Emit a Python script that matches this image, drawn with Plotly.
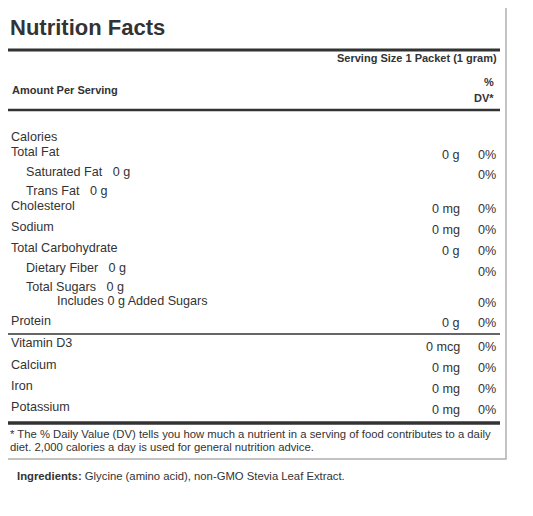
import plotly.graph_objects as go

# label data
nutrients = ["Calories", "Total Fat", "Saturated Fat   0 g", "Trans Fat   0 g", "Cholesterol",
             "Sodium", "Total Carbohydrate", "Dietary Fiber   0 g", "Total Sugars   0 g",
             "Includes 0 g Added Sugars", "Protein",
             "Vitamin D3", "Calcium", "Iron", "Potassium"]
amounts = ["", "0 g", "", "", "0 mg", "0 mg", "0 g", "", "", "", "0 g",
           "0 mcg", "0 mg", "0 mg", "0 mg"]
dvs = ["", "0%", "0%", "", "0%", "0%", "0%", "0%", "", "0%", "0%",
       "0%", "0%", "0%", "0%"]
indent_level = [0, 0, 1, 1, 0, 0, 0, 1, 1, 2, 0, 0, 0, 0, 0]

# layout (pixel positions)
label_y = [137, 152, 172, 191, 206, 227, 248, 268, 287, 301, 321, 343, 365, 386, 407]
value_y = [137, 155, 175, 191, 209, 230, 251, 272, 287, 303, 323, 347, 368, 389, 410]
indent_x = [9, 24, 55]

ink = "#333333"
font = "Liberation Sans, Arial, sans-serif"
off = 8  # page body margin

fig = go.Figure()
ann = []

def txt(x, y, s, anchor="left", size=12.6, bold=False):
    ann.append(dict(x=x, y=y, text=("<b>%s</b>" % s) if bold else s, showarrow=False,
                    xanchor=anchor, yanchor="middle", font=dict(family=font, size=size, color=ink)))

txt(8, 27, "Nutrition Facts", size=22, bold=True)
txt(499, 58, "Serving Size 1 Packet (1 gram)", "right", 11, True)
txt(10, 90, "Amount Per Serving", size=11, bold=True)
txt(496, 82, "%", "right", 11, True)
txt(496, 98, "DV*", "right", 11, True)

for i, name in enumerate(nutrients):
    txt(indent_x[indent_level[i]], label_y[i], name)
    if amounts[i]:
        txt(462, value_y[i], amounts[i], "right")
    if dvs[i]:
        txt(498, value_y[i], dvs[i], "right")

txt(8, 434, "* The % Daily Value (DV) tells you how much a nutrient in a serving of food contributes to a daily", size=11.3)
txt(8, 447, "diet. 2,000 calories a day is used for general nutrition advice.", size=11.3)
txt(15, 476, "<b>Ingredients:</b> Glycine (amino acid), non-GMO Stevia Leaf Extract.", size=11.3)

shapes = [
    dict(type="rect", x0=1.5, y0=1.5, x1=506, y1=459, line=dict(color="#b0b0b0", width=1.5)),
    dict(type="line", x0=8, x1=500, y0=50, y1=50, line=dict(color=ink, width=3)),
    dict(type="line", x0=8, x1=500, y0=110, y1=110, line=dict(color=ink, width=2.5)),
    dict(type="line", x0=8, x1=500, y0=334, y1=334, line=dict(color=ink, width=1.5)),
    dict(type="line", x0=8, x1=500, y0=423, y1=423, line=dict(color=ink, width=3.5)),
]

fig.update_layout(
    width=533, height=516, margin=dict(l=0, r=0, t=0, b=0),
    paper_bgcolor="white", plot_bgcolor="white",
    xaxis=dict(range=[off, 533 + off], visible=False, fixedrange=True),
    yaxis=dict(range=[516 + off, off], visible=False, fixedrange=True),
    annotations=ann, shapes=shapes, showlegend=False,
)
fig.write_html("out.html")
